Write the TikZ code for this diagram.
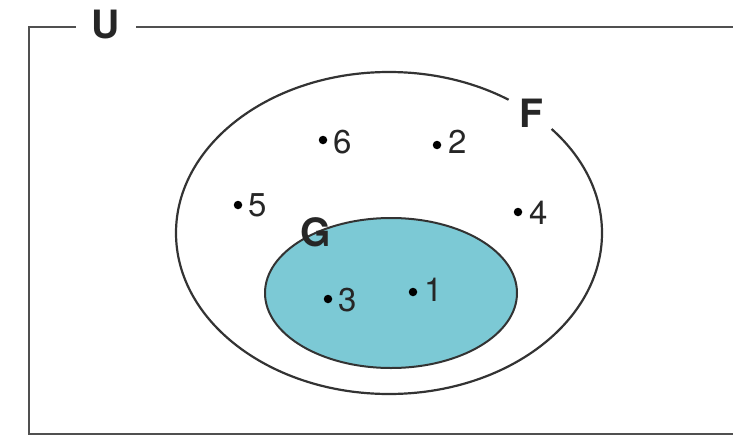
\documentclass[tikz,border=0pt]{standalone}
\usepackage{fontspec}
\setmainfont{TeX Gyre Heros}
\definecolor{gfill}{RGB}{124,201,213}
\definecolor{frame}{RGB}{80,80,80}
\begin{document}
\begin{tikzpicture}[x=1pt,y=-1pt,
  setlabel/.style={font=\fontsize{39}{39}\selectfont\bfseries, text=black!85},
  elemdot/.style={circle, fill=black, inner sep=0pt, minimum size=8.5pt},
  elemlabel/.style={font=\fontsize{33}{33}\selectfont, text=black!85, anchor=west, inner sep=0pt},
  border/.style={line width=2.2pt, draw=black!80}]
\useasboundingbox (0,0) rectangle (733,439);
\clip (0,0) rectangle (733,439);
\fill[white] (0,0) rectangle (733,439);
% universe
\draw[line width=2.6pt, draw=frame] (29,27) rectangle (760,434);
\node[setlabel, fill=white, inner xsep=16pt, inner ysep=4pt] (U) at (106,25) {U};
% F
\draw[border] (389,233) ellipse [x radius=213, y radius=161];
\node[setlabel, fill=white, circle, minimum size=52pt, inner sep=0pt] (F) at (531,113) {F};
% G
\draw[border, fill=gfill, line width=2pt] (391,293) ellipse [x radius=126, y radius=75];
\node[setlabel] (G) at (316,232) {G};
% elements
\node[elemdot] (d6) at (323,140) {}; \node[elemlabel] (l6) at (333,142) {6};
\node[elemdot] (d2) at (437,145) {}; \node[elemlabel] (l2) at (448,142) {2};
\node[elemdot] (d5) at (238,205) {}; \node[elemlabel] (l5) at (248,205) {5};
\node[elemdot] (d4) at (518,212) {}; \node[elemlabel] (l4) at (529,213) {4};
\node[elemdot] (d3) at (328,299) {}; \node[elemlabel] (l3) at (338,300) {3};
\node[elemdot] (d1) at (413,292) {}; \node[elemlabel] (l1) at (424,290) {1};
\end{tikzpicture}
\end{document}
